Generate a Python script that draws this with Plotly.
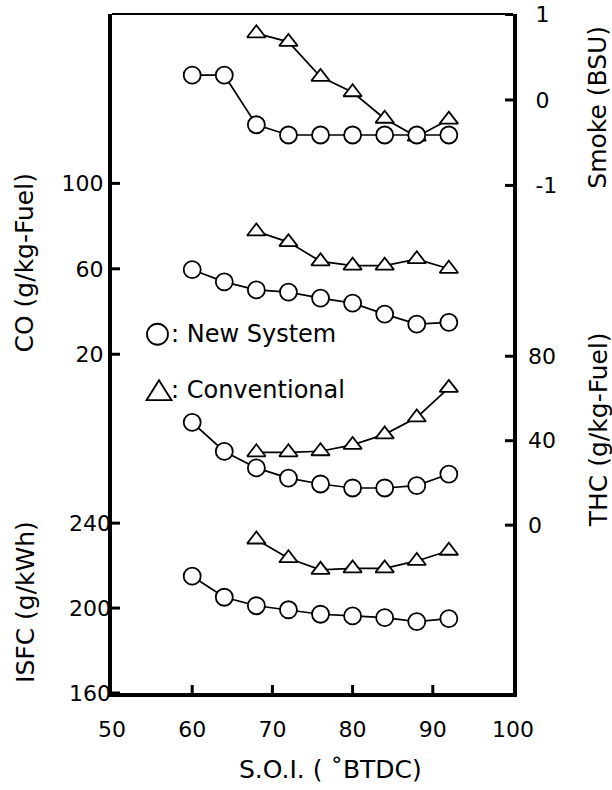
import plotly.graph_objects as go

# Start of injection timing (deg BTDC)
soi_new = [60, 64, 68, 72, 76, 80, 84, 88, 92]
soi_conv = [68, 72, 76, 80, 84, 88, 92]

# Smoke (BSU)
smoke_new = [0.29, 0.29, -0.29, -0.41, -0.41, -0.41, -0.41, -0.41, -0.41]
smoke_conv = [0.78, 0.68, 0.27, 0.09, -0.22, -0.43, -0.23]

# CO (g/kg-Fuel)
co_new = [59.6, 53.9, 50.1, 49.1, 46.3, 43.9, 38.8, 34.1, 34.9]
co_conv = [77.5, 72.5, 63.5, 61.5, 61.5, 64.5, 60.0]

# THC (g/kg-Fuel)
thc_new = [48.7, 34.9, 27.1, 22.3, 19.5, 17.6, 17.6, 18.7, 24.2]
thc_conv = [34.5, 34.5, 35.0, 38.0, 43.0, 51.0, 65.0]

# ISFC (g/kWh)
isfc_new = [215.0, 205.1, 201.1, 199.2, 197.1, 196.3, 195.5, 193.6, 195.0]
isfc_conv = [232.3, 223.5, 218.0, 218.7, 218.7, 222.2, 227.0]

x_ticks = [50, 60, 70, 80, 90, 100]
co_ticks = [20, 60, 100]
isfc_ticks = [160, 200, 240]
smoke_ticks = [-1, 0, 1]
thc_ticks = [0, 40, 80]

FONT = "DejaVu Sans"
TICK_SIZE = 22
TITLE_SIZE = 25


def labels(vals):
    # plain hyphen for negatives, as in the printed figure
    return [str(v) for v in vals]


circle_marker = dict(symbol="circle", size=17, color="white",
                     line=dict(color="black", width=1.8))
tri_marker = dict(symbol="triangle-up", size=16, color="white",
                  line=dict(color="black", width=1.8))
line_style = dict(color="black", width=1.7)

fig = go.Figure()

panels = [
    ("y3", smoke_new, smoke_conv),
    ("y", co_new, co_conv),
    ("y4", thc_new, thc_conv),
    ("y2", isfc_new, isfc_conv),
]
for yref, new_vals, conv_vals in panels:
    fig.add_trace(go.Scatter(x=soi_conv, y=conv_vals, yaxis=yref,
                             mode="lines+markers", line=line_style,
                             marker=tri_marker, showlegend=False))
    fig.add_trace(go.Scatter(x=soi_new, y=new_vals, yaxis=yref,
                             mode="lines+markers", line=line_style,
                             marker=circle_marker, showlegend=False))

tickfont = dict(family=FONT, size=TICK_SIZE, color="black")

common_y = dict(showgrid=False, zeroline=False, ticks="", tickfont=tickfont,
                tickmode="array", automargin=False)

fig.update_layout(
    template="none",
    width=612, height=790,
    margin=dict(l=112, r=99, t=14, b=97, autoexpand=False),
    paper_bgcolor="white", plot_bgcolor="white",
    font=dict(family=FONT, color="black"),
    xaxis=dict(range=[50, 100], tickmode="array", tickvals=x_ticks,
               ticktext=labels(x_ticks), automargin=False,
               showgrid=False, zeroline=False, ticks="", tickfont=tickfont,
               showline=True, linewidth=4, linecolor="black",
               ticklabelstandoff=14),
    yaxis=dict(range=[-138.6, 179.3], tickvals=co_ticks,
               ticktext=labels(co_ticks),
               showline=True, linewidth=4, linecolor="black",
               side="left", ticklabelstandoff=0, **common_y),
    yaxis2=dict(range=[160, 479.8], tickvals=isfc_ticks,
                ticktext=labels(isfc_ticks), overlaying="y",
                showline=False, side="left", ticklabelstandoff=0, **common_y),
    yaxis3=dict(range=[-6.94, 1.006], tickvals=smoke_ticks,
                ticktext=labels(smoke_ticks), overlaying="y",
                showline=True, linewidth=4, linecolor="black",
                side="right", ticklabelstandoff=14, **common_y),
    yaxis4=dict(range=[-79.5, 242.1], tickvals=thc_ticks,
                ticktext=labels(thc_ticks), overlaying="y",
                showline=False, side="right", ticklabelstandoff=14, **common_y),
)

# thin top edge of the frame
fig.add_shape(type="line", xref="paper", yref="paper", x0=0, x1=1, y0=1, y1=1,
              line=dict(color="black", width=2))

# inward tick marks on the frame, placed through each axis' scale
tick_line = dict(color="black", width=3)
for yref, vals in [("y", co_ticks), ("y2", isfc_ticks)]:
    for v in vals:
        fig.add_shape(type="line", xref="paper", yref=yref,
                      xsizemode="pixel", xanchor=0, x0=0, x1=8,
                      y0=v, y1=v, line=tick_line)
for yref, vals in [("y3", smoke_ticks), ("y4", thc_ticks)]:
    for v in vals:
        fig.add_shape(type="line", xref="paper", yref=yref,
                      xsizemode="pixel", xanchor=1, x0=-8, x1=0,
                      y0=v, y1=v, line=tick_line)
for v in x_ticks[1:-1]:
    fig.add_shape(type="line", xref="x", yref="paper",
                  ysizemode="pixel", yanchor=0, y0=0, y1=8,
                  x0=v, x1=v, line=tick_line)


def title_ann(text, x, y, angle):
    fig.add_annotation(text=text, x=x, y=y, xref="paper", yref="paper",
                       showarrow=False, textangle=angle,
                       xanchor="center", yanchor="middle",
                       font=dict(family=FONT, size=TITLE_SIZE, color="black"))


title_ann("CO (g/kg-Fuel)", -0.217, 0.634, -90)
title_ann("ISFC (g/kWh)", -0.217, 0.134, -90)
title_ann("Smoke (BSU)", 1.212, 0.862, -90)
title_ann("THC (g/kg-Fuel)", 1.212, 0.387, -90)
title_ann("S.O.I. ( ˚BTDC)", 0.546, -0.113, 0)

# legend key: open circle and open triangle with labels
leg_x = (157.5 - 112) / 401
circ_y = (693 - 334) / 679.5
tri_y = (693 - 390) / 679.5
fig.add_shape(type="circle", xref="paper", yref="paper",
              xsizemode="pixel", ysizemode="pixel",
              xanchor=leg_x, yanchor=circ_y,
              x0=-10.5, x1=10.5, y0=-10.5, y1=10.5,
              line=dict(color="black", width=1.8), fillcolor="white")
fig.add_shape(type="path", xref="paper", yref="paper",
              xsizemode="pixel", ysizemode="pixel",
              xanchor=leg_x + 1.5 / 401, yanchor=tri_y,
              path="M-12.5,-10 L12.5,-10 L0,10 Z",
              line=dict(color="black", width=1.8), fillcolor="white")

text_x = (169 - 112) / 401
for label, yy in [(": New System", circ_y), (": Conventional", tri_y)]:
    fig.add_annotation(text=label, x=text_x, y=yy, xref="paper", yref="paper",
                       showarrow=False, xanchor="left", yanchor="middle",
                       font=dict(family=FONT, size=24, color="black"))

fig.write_html("out.html")
